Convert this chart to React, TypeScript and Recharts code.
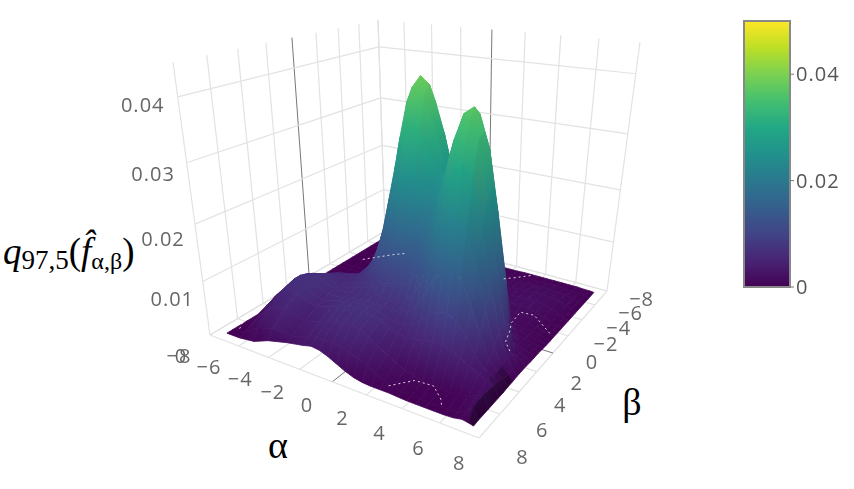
import React from "react";
import { ComposedChart, BarChart, Bar, Line, Scatter, XAxis, YAxis } from "recharts";

const alphaGrid = [-7.4,-6.5,-5.5,-4.5,-3.2,-2.15,-1.65,-1.15,-.65,-.15,.35,.85,1.35,1.85,2.35,2.85,3.35,3.85,4.35,4.85,5.35,5.85,6.35,6.8,7.15,7.4];
const betaGrid = [-7.4,-6.5,-5.5,-4.5,-3.5,-2.5,-2,-1.5,-1,-.5,0,.5,1,1.5,2,2.5,3,3.5,4,4.5,5,6,7,7.4];
// surface heights in units of 0.0001, one row per beta, one column per alpha
const heights = [
[0,0,0,0,0,0,0,0,0,1,1,1,1,1,1,2,2,2,2,2,2,2,2,1,1,0],
[0,0,0,0,0,0,0,1,1,2,2,3,3,3,4,5,6,7,7,8,8,8,7,6,4,0],
[0,0,0,0,0,0,1,1,2,3,4,5,6,7,8,10,12,13,14,15,15,14,12,9,5,0],
[0,0,0,0,0,1,3,5,7,8,10,10,12,12,12,13,15,16,18,19,19,18,15,10,5,0],
[0,0,0,0,2,8,12,19,25,30,32,32,30,26,21,19,18,18,19,20,20,18,14,9,4,0],
[0,0,0,2,9,29,46,67,88,104,109,105,91,73,55,41,31,25,22,21,20,17,12,6,2,0],
[0,0,0,3,13,45,74,108,141,168,177,169,146,115,84,59,42,33,16,14,13,12,9,5,2,0],
[0,0,1,5,19,67,109,158,208,246,260,248,214,168,123,88,64,50,30,15,12,10,8,6,3,0],
[0,1,2,7,26,87,142,208,272,322,341,325,280,223,166,122,96,81,66,26,12,10,8,6,3,0],
[0,2,6,13,34,104,169,245,321,380,403,386,334,269,209,164,140,127,110,48,16,11,9,7,4,0],
[0,3,14,27,45,115,181,261,341,408,428,416,362,301,246,210,195,190,178,130,40,14,9,7,5,1],
[0,8,28,44,56,117,178,251,326,388,414,400,355,307,271,253,257,264,262,205,100,25,11,9,7,2],
[0,14,38,52,62,110,159,220,283,330,354,347,320,292,279,287,311,334,339,285,165,55,16,10,8,2],
[0,20,48,60,66,99,134,178,224,260,278,278,266,260,271,305,348,385,396,345,245,140,30,12,9,2],
[0,26,56,66,69,86,108,137,166,190,203,206,206,218,247,298,356,398,410,375,295,180,70,18,12,3],
[0,32,64,72,69,78,89,105,122,135,143,149,155,175,213,270,329,377,390,368,278,175,83,30,12,3],
[0,36,70,76,67,72,77,84,93,98,102,106,114,135,171,223,277,318,332,311,236,148,71,31,13,3],
[0,40,74,78,68,69,71,75,79,82,80,82,88,104,132,171,213,248,253,237,181,114,55,25,12,2],
[0,40,74,78,65,68,71,73,75,74,75,72,74,81,97,122,149,169,174,162,123,79,40,22,14,2],
[0,38,70,74,60,69,73,75,77,77,73,68,63,63,69,82,96,106,109,100,80,52,32,24,18,1],
[0,32,64,68,55,66,72,76,78,78,74,70,61,56,53,55,59,62,62,57,49,39,30,26,20,1],
[0,18,48,55,44,54,60,64,66,66,62,55,45,35,26,18,13,9,7,6,7,8,11,17,24,1],
[0,6,24,32,32,40,44,46,46,44,40,34,26,18,10,5,2,1,1,1,1,2,4,10,22,1],
[0,0,4,16,26,32,36,34,28,20,12,6,3,2,2,2,1,0,0,0,0,0,1,4,2,0],
];
const heightUnit = 0.000097;

const alphaTicks = [-8,-6,-4,-2,0,2,4,6,8];
const betaTicks = [-8,-6,-4,-2,0,2,4,6,8];
const zTicks = [0,0.01,0.02,0.03,0.04];
const colorTicks = [0,0.02,0.04];
const contourA = [[7.3,-1.1],[5.8,-2.4],[5,-2.3],[5.1,-1],[5.4,-.2],[5.7,.9],[6.3,1.6]];
const contourB = [[2.8,7.3],[3.6,6.3],[4.6,6.2],[5.4,6.9],[5.7,7.3]];
const contourC = [[-6.2,-3],[-5.6,-3.8],[-5,-4.6],[-4.4,-5.2]];
const contourD = [[-7,6.6],[-6.6,7.3]];
const contourE = [[2.4,-5.4],[3,-6],[3.6,-6.7]];

const W = 854, H = 489, Z_TOP = 0.045, Z_COLOR = 0.05, SURFACE_TONE = 0.93;
const viridis = ["#440154","#482475","#414487","#355f8d","#2a788e","#21918c","#22a884","#44bf70","#7ad151","#bddf26","#fde725"];

function hex(c){ return [1,3,5].map(i=>parseInt(c.slice(i,i+2),16)); }
function colorAt(z, f=1){
  const t = Math.max(0,Math.min(1,z*SURFACE_TONE/Z_COLOR))*10, i = Math.min(9,Math.floor(t)), k=t-i;
  const a=hex(viridis[i]), b=hex(viridis[i+1]);
  return `rgb(${a.map((v,j)=>Math.round((v+(b[j]-v)*k)*f)).join(",")})`;
}
function quad(p){
  const [[x0,y0],[x1,y1],[x2,y2],[x3,y3]] = p;
  const dx1=x1-x2,dx2=x3-x2,sx=x0-x1+x2-x3,dy1=y1-y2,dy2=y3-y2,sy=y0-y1+y2-y3;
  const det=dx1*dy2-dx2*dy1, g=(sx*dy2-dx2*sy)/det, h=(dx1*sy-sx*dy1)/det;
  const a=x1-x0+g*x1,b=x3-x0+h*x3,d=y1-y0+g*y1,e=y3-y0+h*y3;
  return (u,v)=>{const w=g*u+h*v+1;return [(a*u+b*v+x0)/w,(d*u+e*v+y0)/w];};
}
// camera: box corners back, right, front, left on the floor and at the top
const floorH = quad([[385,231],[607,291],[479,438],[210,335]]);
const topH = quad([[378,20],[640,42],[486,116],[173,62]]);
function project(al,be,z){
  const u=(al+8)/16,v=(be+8)/16,t=z/Z_TOP,s=t/(1+.17*(1-t));
  const a=floorH(u,v),b=topH(u,v);
  return {x:a[0]+(b[0]-a[0])*s,y:a[1]+(b[1]-a[1])*s};
}

const cells = [];
for(let j=0;j<betaGrid.length-1;j++) for(let i=0;i<alphaGrid.length-1;i++){
  const vs=[[i,j],[i+1,j],[i+1,j+1],[i,j+1]].map(([a,b])=>{
    const z=heights[b][a]*heightUnit; return {...project(alphaGrid[a],betaGrid[b],z),z};
  });
  const lo=vs.reduce((m,v)=>v.z<m.z?v:m,vs[0]), hi=vs.reduce((m,v)=>v.z>m.z?v:m,vs[0]);
  const slope=((vs[1].z+vs[2].z-vs[0].z-vs[3].z)/2)/(alphaGrid[i+1]-alphaGrid[i])/heightUnit;
  const corner=alphaGrid[i]>=6.8&&betaGrid[j]>=3.5;
  const shade=corner?1-Math.max(0,Math.min(.35,-slope/120)):1-Math.max(0,Math.min(.1,-slope/2500));
  cells.push({x:vs.reduce((s,v)=>s+v.x,0)/4,y:vs.reduce((s,v)=>s+v.y,0)/4,vs,lo,hi,shade,id:`c${i}_${j}`});
}

function CellShape(props){
  const {cx,cy,payload:c}=props;
  const dx=cx-c.x,dy=cy-c.y;
  const pts=c.vs.map(v=>`${v.x+dx},${v.y+dy}`).join(" ");
  return <g>
    <defs><linearGradient id={c.id} gradientUnits="userSpaceOnUse" x1={c.lo.x+dx} y1={c.lo.y+dy} x2={c.hi.x+dx+.01} y2={c.hi.y+dy+.01}>
      <stop offset="0" stopColor={colorAt(c.lo.z,c.shade)}/><stop offset="1" stopColor={colorAt(c.hi.z,c.shade)}/>
    </linearGradient></defs>
    <polygon points={pts} fill={`url(#${c.id})`} stroke={`url(#${c.id})`} strokeWidth={.8} strokeLinejoin="round"/>
  </g>;
}
const tickFont = {fontFamily:"'Open Sans'",fontSize:20,fill:"#666",letterSpacing:"1px"};
function fmt(v){return String(v).replace("-","\u2212");}
function TickShape(props){
  const {cx,cy,payload:p}=props;
  return <text x={cx} y={cy} textAnchor="middle" dominantBaseline="central" {...tickFont}>{p.label}</text>;
}
const NoDot = () => null;
const alphaLabels = alphaTicks.map(a=>{const p=project(a,8,0);return {x:p.x-31+.7*(a+8),y:p.y+20+.3*(a+8),label:fmt(a)};});
const betaLabels = betaTicks.map(b=>{const p=project(8,b,0);return {x:p.x+39+.55*b,y:p.y+8+(b>0?1.25*b:.1*b),label:fmt(b)};});
const zLabels = zTicks.map(z=>{const p=project(-8,8,z);return {x:p.x-29-(z/.04)*6,y:p.y+20-12*(z/.04),label:fmt(z)};});

function seg(a,b,n=2){return Array.from({length:n},(_,i)=>{const k=i/(n-1);return project(a[0]+(b[0]-a[0])*k,a[1]+(b[1]-a[1])*k,a[2]+(b[2]-a[2])*k);});}
const gridLines=[];
for(const k of alphaTicks){
  gridLines.push({d:seg([k,-8,0],[k,8,0]),dark:k===0});
  gridLines.push({d:seg([k,-8,0],[k,-8,Z_TOP]),dark:k===0});
}
for(const k of betaTicks){
  gridLines.push({d:seg([-8,k,0],[8,k,0]),dark:k===0});
  gridLines.push({d:seg([-8,k,0],[-8,k,Z_TOP]),dark:k===0});
}
for(const z of zTicks){
  gridLines.push({d:seg([-8,8,z],[-8,-8,z]),dark:false});
  gridLines.push({d:seg([-8,-8,z],[8,-8,z]),dark:false});
}
const contours=[contourA,contourB,contourC,contourD,contourE].map(c=>c.map(([a,b])=>project(a,b,0.0012)));

const axisTitles=[
  {x:278,y:445,kind:"a"},{x:632,y:402,kind:"b"},{x:3,y:264,kind:"q"},
];
function TitleShape(props){
  const {cx,cy,payload:p}=props;
  const serif="'Liberation Serif'";
  if(p.kind==="a") return <text x={cx} y={cy} textAnchor="middle" dominantBaseline="central" fontFamily={serif} fontSize={38} fill="#000">α</text>;
  if(p.kind==="b") return <text x={cx} y={cy} textAnchor="middle" dominantBaseline="central" fontFamily={serif} fontSize={38} fill="#000">β</text>;
  return <text x={cx} y={cy} fontFamily={serif} fill="#000" fontSize={37}>
    <tspan fontStyle="italic">q</tspan>
    <tspan fontSize={27} dy={5}>97,5</tspan>
    <tspan dy={-5}>(</tspan>
    <tspan fontStyle="italic">{"f\u0302"}</tspan>
    <tspan fontSize={24} dy={5}>α,β</tspan>
    <tspan dy={-5}>)</tspan>
  </text>;
}

const colorBarData=[{name:"scale",value:Z_COLOR}];
const frame={position:"absolute",left:0,top:0};

export default function App(){
  return <div style={{...frame,width:W,height:H,background:"#fff"}}>
    <div style={{...frame,filter:"blur(0.5px)"}}>
      <ComposedChart width={W} height={H} margin={{top:0,right:0,bottom:0,left:0}}>
        <XAxis type="number" dataKey="x" domain={[0,W]} hide allowDataOverflow/>
        <YAxis type="number" dataKey="y" domain={[0,H]} reversed hide allowDataOverflow/>
        {gridLines.map((g,i)=><Line key={"g"+i} data={g.d} dataKey="y" dot={false} isAnimationActive={false} stroke={g.dark?"#777":"#e2e2e2"} strokeWidth={g.dark?1:1.2} legendType="none"/>)}
        <Scatter data={cells} shape={CellShape} isAnimationActive={false} legendType="none"/>
        {contours.map((c,i)=><Scatter key={"c"+i} data={c} shape={NoDot} line={{stroke:"#fff",strokeOpacity:.8,strokeWidth:1,strokeDasharray:"2 3",fill:"none"}} lineType="joint" isAnimationActive={false} legendType="none"/>)}
        <Scatter data={alphaLabels} shape={TickShape} isAnimationActive={false} legendType="none"/>
        <Scatter data={betaLabels} shape={TickShape} isAnimationActive={false} legendType="none"/>
        <Scatter data={zLabels} shape={TickShape} isAnimationActive={false} legendType="none"/>
      </ComposedChart>
    </div>
    <div style={frame}>
      <ComposedChart width={W} height={H} margin={{top:0,right:0,bottom:0,left:0}}>
        <XAxis type="number" dataKey="x" domain={[0,W]} hide allowDataOverflow/>
        <YAxis type="number" dataKey="y" domain={[0,H]} reversed hide allowDataOverflow/>
        <Scatter data={axisTitles} shape={TitleShape} isAnimationActive={false} legendType="none"/>
      </ComposedChart>
    </div>
    <div style={{position:"absolute",left:720,top:0,filter:"blur(0.5px)"}}>
      <BarChart width={134} height={300} data={colorBarData} margin={{top:21,right:0,bottom:13,left:24}} barCategoryGap={0}>
        <defs><linearGradient id="viridisBar" x1="0" y1="1" x2="0" y2="0">
          {viridis.map((c,i)=><stop key={c} offset={i/10} stopColor={c}/>)}
        </linearGradient></defs>
        <XAxis dataKey="name" hide/>
        <YAxis orientation="right" width={64} domain={[0,Z_COLOR]} ticks={colorTicks} tickFormatter={fmt} axisLine={false} tickSize={4} tick={{...tickFont,fill:"#555"}} stroke="#777"/>
        <Bar dataKey="value" fill="url(#viridisBar)" stroke="#888" strokeWidth={2} isAnimationActive={false}/>
      </BarChart>
    </div>
  </div>;
}
